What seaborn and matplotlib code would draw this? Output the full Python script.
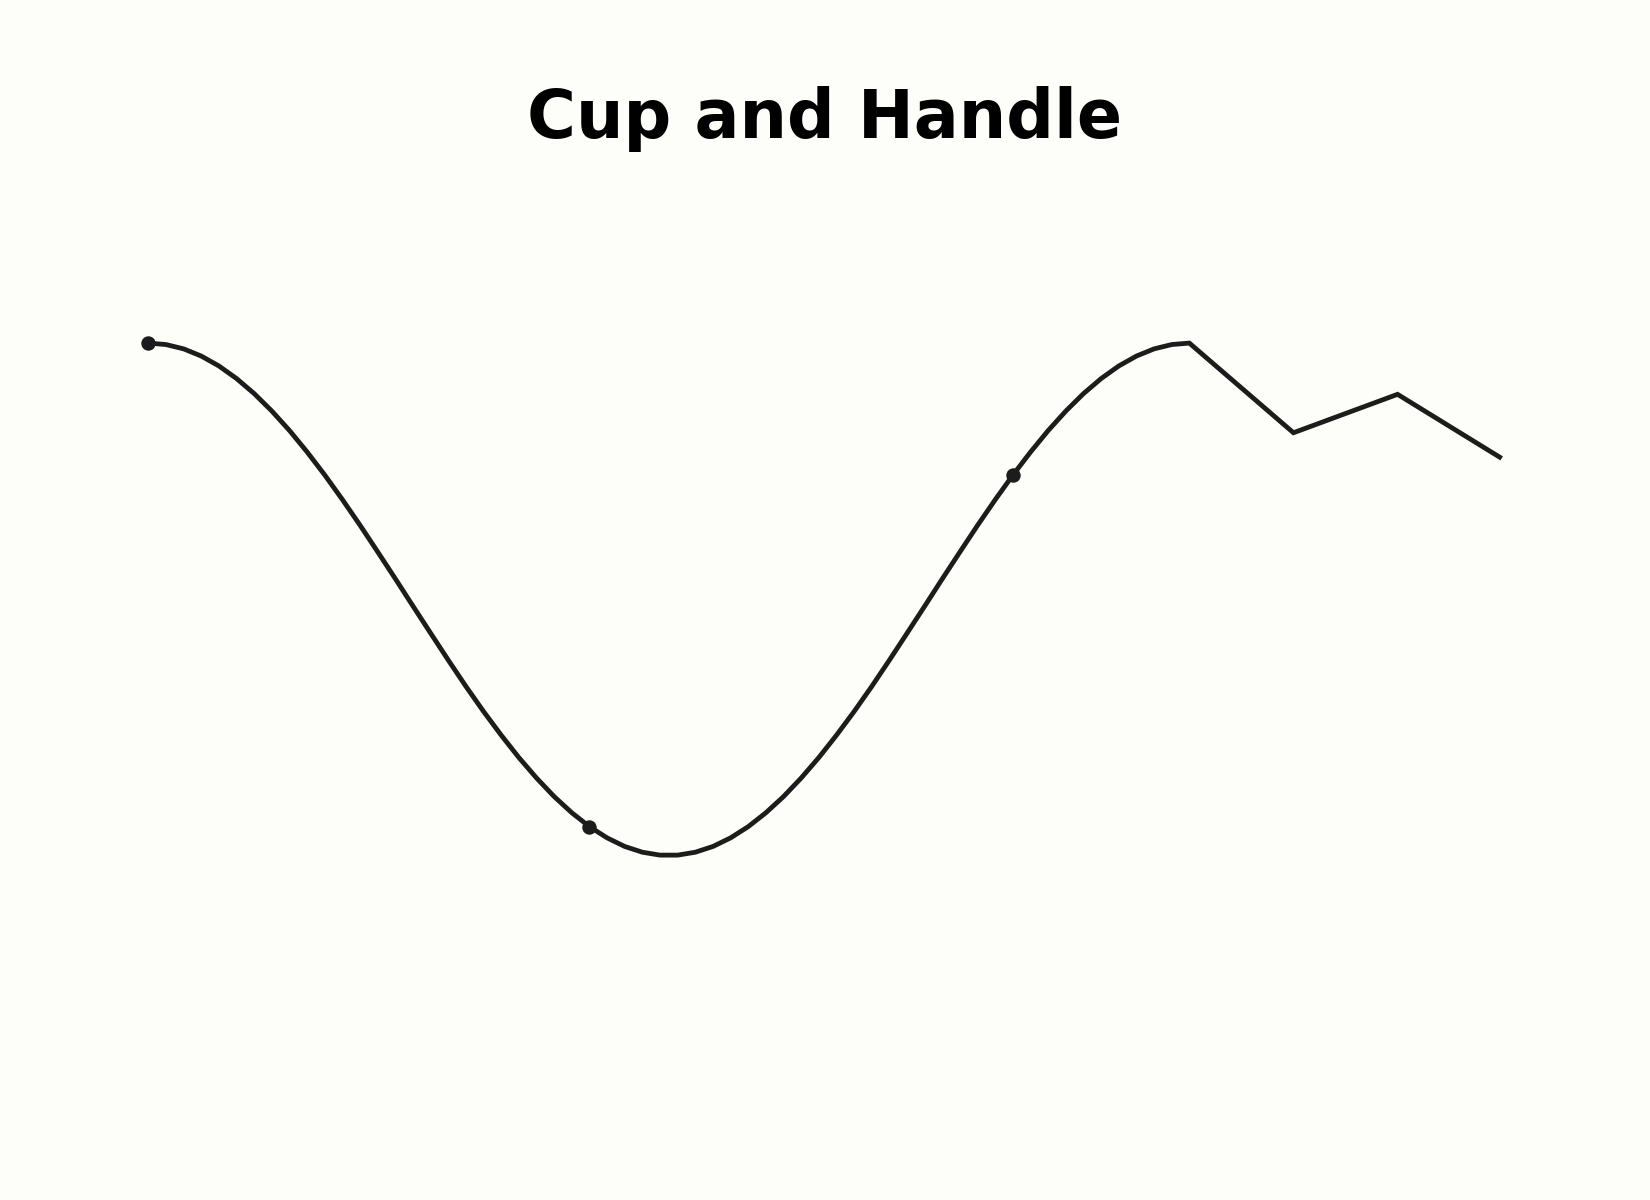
import numpy as np
import pandas as pd
import matplotlib
matplotlib.use("Agg")
import matplotlib.pyplot as plt
import seaborn as sns

# cup: rounded bottom
cup_x = [0.0, 0.169, 0.339, 0.508, 0.678, 0.847, 1.017, 1.186, 1.356, 1.525,
         1.695, 1.864, 2.034, 2.203, 2.373, 2.542, 2.712, 2.881, 3.051, 3.220,
         3.390, 3.559, 3.729, 3.898, 4.068, 4.237, 4.407, 4.576, 4.746, 4.915,
         5.085, 5.254, 5.424, 5.593, 5.763, 5.932, 6.102, 6.271, 6.441, 6.610,
         6.780, 6.949, 7.119, 7.288, 7.458, 7.627, 7.797, 7.966, 8.136, 8.305,
         8.475, 8.644, 8.814, 8.983, 9.153, 9.322, 9.492, 9.661, 9.831, 10.0]
cup_y = [1.0, 0.9943, 0.9774, 0.9494, 0.9106, 0.8616, 0.8027, 0.7348, 0.6586, 0.5750,
         0.4848, 0.3892, 0.2888, 0.1852, 0.0799, -0.0266, -0.1326, -0.2374, -0.3402, -0.4379,
         -0.5307, -0.6177, -0.6977, -0.7699, -0.8333, -0.8873, -0.9313, -0.9648, -0.9873, -0.9986,
         -0.9986, -0.9873, -0.9648, -0.9313, -0.8873, -0.8333, -0.7699, -0.6977, -0.6177, -0.5307,
         -0.4379, -0.3402, -0.2374, -0.1326, -0.0266, 0.0799, 0.1852, 0.2888, 0.3892, 0.4848,
         0.5750, 0.6586, 0.7348, 0.8027, 0.8616, 0.9106, 0.9494, 0.9774, 0.9943, 1.0]

# handle after the right rim
handle_x = [11, 12, 13]
handle_y = [0.65, 0.80, 0.55]

# points marked with a dot
marked = [0, 25, 49]

title = "Cup and Handle"
bg = "#fdfdf9"
ink = "#1c1c1c"

df = pd.DataFrame({"x": cup_x + handle_x, "y": cup_y + handle_y})
dots = pd.DataFrame({"x": [cup_x[i] for i in marked], "y": [cup_y[i] for i in marked]})

sns.set_theme(style="white")
fig = plt.figure(figsize=(11, 8), dpi=150, facecolor=bg)
ax = fig.add_axes([0.0489, 0.159, 0.9022, 0.6832])
ax.set_facecolor(bg)

sns.lineplot(data=df, x="x", y="y", sort=False, color=ink, linewidth=2.3, ax=ax)
for l in ax.lines:
    l.set_solid_joinstyle("miter")
    l.set_solid_capstyle("butt")
sns.scatterplot(data=dots, x="x", y="y", color=ink, s=48, edgecolor=ink, linewidth=0, ax=ax, zorder=3)

ax.set_xlim(-0.65, 13.65)
ax.set_ylim(-1.6, 1.6)
ax.axis("off")

fig.text(0.5, 1 - 138 / 1200, title, ha="center", va="baseline",
         fontsize=32, fontweight="bold", color="black", family="DejaVu Sans")

fig.savefig("out.png", dpi=150, facecolor=bg)
